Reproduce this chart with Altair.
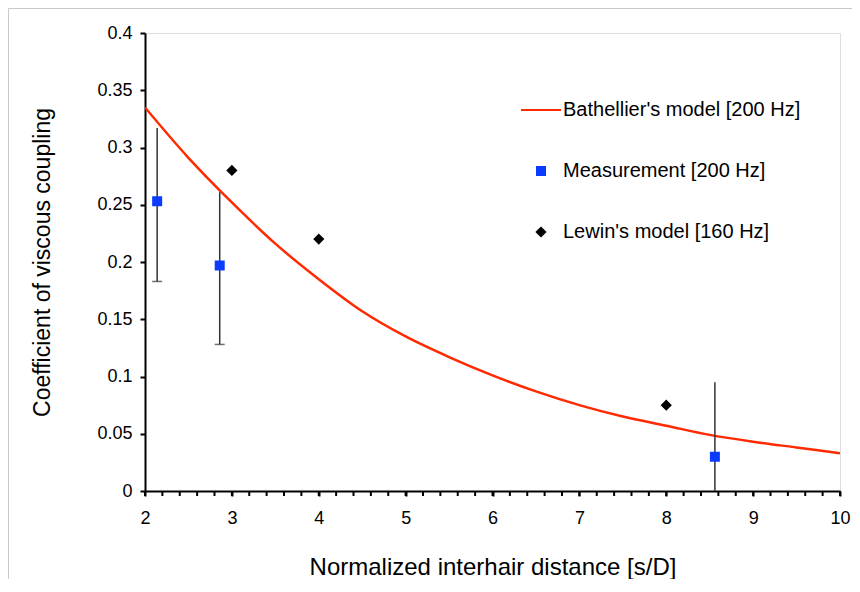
import altair as alt
import pandas as pd

# ---- data ----
curve_x = [2, 2.5, 3, 3.5, 4, 4.5, 5, 5.5, 6, 6.5, 7, 7.5, 8, 8.5, 9, 9.5, 10]
curve_y = [0.335, 0.291, 0.252, 0.216, 0.185, 0.157, 0.135, 0.117, 0.101,
           0.087, 0.075, 0.065, 0.057, 0.049, 0.043, 0.038, 0.033]

meas_x = [2.14, 2.86, 8.56]
meas_y = [0.253, 0.197, 0.030]
meas_lo = [0.183, 0.128, -0.035]
meas_hi = [0.317, 0.261, 0.095]

lewin_x = [3, 4, 8]
lewin_y = [0.280, 0.220, 0.075]

series_names = ["Bathellier's model [200 Hz]", "Measurement [200 Hz]", "Lewin's model [160 Hz]"]
series_colors = ["#ff2a00", "#0a3cff", "#000000"]
series_shapes = ["stroke", "square", "diamond"]
series_sizes = [1600, 64, 70]

x_major = [2, 3, 4, 5, 6, 7, 8, 9, 10]
x_minor = [round(2 + 0.2 * i, 1) for i in range(41)]
y_ticks = [round(0.05 * i, 2) for i in range(9)]

FONT = "Liberation Sans"
W, H = 695, 458

curve_df = pd.DataFrame({"x": curve_x, "y": curve_y})
meas_df = pd.DataFrame({"x": meas_x, "y": meas_y, "lo": meas_lo, "hi": meas_hi})
minor_df = pd.DataFrame({"x": x_minor})
pts_df = pd.DataFrame({
    "x": meas_x + lewin_x,
    "y": meas_y + lewin_y,
    "series": [series_names[1]] * len(meas_x) + [series_names[2]] * len(lewin_x),
})

xscale = alt.Scale(domain=[2, 10], nice=False, zero=False)
yscale = alt.Scale(domain=[0, 0.4], nice=False)

xaxis = alt.Axis(
    values=x_major, format="d", labelFlush=False,
    labelOverlap=False, grid=False, tickSize=5, tickWidth=2, tickColor="black",
    domainColor="black", domainWidth=2, labelPadding=13,
    labelFont=FONT, labelFontSize=18, labelColor="black",
    title="Normalized interhair distance [s/D]",
    titleFont=FONT, titleFontSize=24, titleFontWeight="normal", titleColor="black",
    titleX=W / 2, titleY=83, titleBaseline="alphabetic", titleAlign="center",
)
yaxis = alt.Axis(
    values=y_ticks, format=".2~f", grid=False, tickSize=5, tickWidth=2, tickColor="black",
    domainColor="black", domainWidth=2, labelPadding=8, labelOverlap=False, labelFlush=False,
    labelFont=FONT, labelFontSize=18, labelColor="black",
    title="Coefficient of viscous coupling",
    titleFont=FONT, titleFontSize=23, titleFontWeight="normal", titleColor="black",
    titleX=-103, titleY=H / 2, titleBaseline="middle", titleAlign="center", titleAngle=-90,
)

frame = alt.Chart(pd.DataFrame({"a": [0]})).mark_rect(
    filled=False, stroke="#c8c8c8", strokeWidth=1
).encode(
    x=alt.value(-136.5), x2=alt.value(900), y=alt.value(-24.5), y2=alt.value(800)
)

minor = alt.Chart(minor_df).mark_rule(color="black", strokeWidth=2).encode(
    x=alt.X("x:Q", scale=xscale, axis=xaxis),
    y=alt.value(H),
    y2=alt.value(H + 5),
)

curve = alt.Chart(curve_df).mark_line(
    color=series_colors[0], strokeWidth=2.5, interpolate="monotone", clip=True
).encode(
    x=alt.X("x:Q", scale=xscale, axis=xaxis),
    y=alt.Y("y:Q", scale=yscale, axis=yaxis),
)

err = alt.Chart(meas_df).mark_rule(color="#333333", strokeWidth=1.5, clip=True).encode(
    x="x:Q", y="lo:Q", y2="hi:Q"
)
caps = alt.Chart(meas_df).mark_tick(
    color="#333333", orient="horizontal", size=10, thickness=1.5, clip=True
).encode(x="x:Q", y="lo:Q")

leg = alt.Legend(
    orient="none", legendX=375, legendY=56, title=None,
    labelFont=FONT, labelFontSize=20, labelColor="black", labelOffset=1, labelLimit=400,
    symbolStrokeWidth=2, rowPadding=41, padding=0,
)

points = alt.Chart(pts_df).mark_point(filled=True, opacity=1, strokeWidth=2).encode(
    x="x:Q",
    y="y:Q",
    fill=alt.Fill("series:N", scale=alt.Scale(domain=series_names, range=series_colors), legend=leg),
    stroke=alt.Stroke("series:N", scale=alt.Scale(domain=series_names, range=series_colors), legend=leg),
    shape=alt.Shape("series:N", scale=alt.Scale(domain=series_names, range=series_shapes), legend=leg),
    size=alt.Size("series:N", scale=alt.Scale(type="ordinal", domain=series_names, range=series_sizes), legend=leg),
)

chart = alt.layer(frame, minor, curve, err, caps, points).properties(
    width=W, height=H,
    autosize=alt.AutoSizeParams(type="none"),
    padding={"left": 137, "top": 25, "right": 12, "bottom": 88},
).configure_view(stroke="black", strokeWidth=2).configure(background="white")

chart.save("out.html", embed_options={"renderer": "svg", "actions": False})
